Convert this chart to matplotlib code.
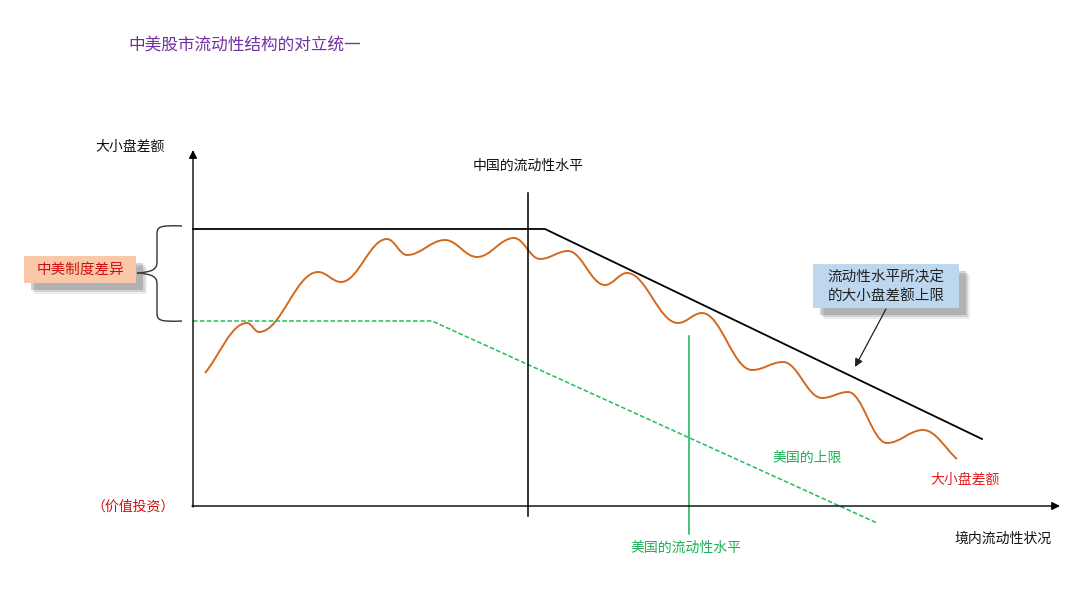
import matplotlib
matplotlib.use("Agg")
import matplotlib.pyplot as plt
from matplotlib.path import Path
from matplotlib.patches import PathPatch, Rectangle

plt.rcParams['font.family'] = ['Noto Sans CJK SC', 'DejaVu Sans']

# ---- data (conceptual units: x = domestic liquidity, y = large/small cap spread) ----
curve_x = [12, 54, 66, 125, 148, 194, 214, 252, 284, 321, 347, 375, 412, 434,
           485, 509, 559, 590, 629, 655, 694, 730, 764]
curve_y = [133, 183, 174, 234, 224, 267, 251, 266, 249, 268, 247, 255, 221, 233,
           183, 193, 136, 144, 108, 114, 63, 76, 47]
cn_limit_x = [0, 352, 789]
cn_limit_y = [277, 277, 67]
us_limit_x = [0, 239, 684]
us_limit_y = [185, 185, -17]
cn_level_x = 335
cn_level_y = [-10, 313]
us_level_x = 496
us_level_y = [-28, 170]
x_axis_end = 867
y_axis_end = 356

title = "中美股市流动性结构的对立统一"

fig = plt.figure(figsize=(10.8, 5.91), dpi=100)
ax = fig.add_axes([0, 0, 1, 1])
ax.set_xlim(-193, 1080 - 193)
ax.set_ylim(506 - 591, 506)
ax.axis('off')

# axes with arrows
ax.annotate('', xy=(x_axis_end, 0), xytext=(-1, 0),
            arrowprops=dict(arrowstyle='-|>', color='black', lw=1.0, mutation_scale=12, shrinkA=0, shrinkB=0))
ax.annotate('', xy=(0, y_axis_end), xytext=(0, -1),
            arrowprops=dict(arrowstyle='-|>', color='black', lw=1.0, mutation_scale=12, shrinkA=0, shrinkB=0))

# limits
ax.plot(cn_limit_x, cn_limit_y, color='black', lw=1.3)
ax.plot(us_limit_x, us_limit_y, color='#1DBF5A', lw=1.1, ls=(0, (3, 1.5)))
ax.plot([cn_level_x, cn_level_x], cn_level_y, color='black', lw=1.1)
ax.plot([us_level_x, us_level_x], us_level_y, color='#1BAF55', lw=1.1)

# smooth curve via Bezier segments (horizontal tangents at extrema)
k = 0.38
verts = [(curve_x[0], curve_y[0])]
codes = [Path.MOVETO]
for i in range(len(curve_x) - 1):
    x0, y0, x1, y1 = curve_x[i], curve_y[i], curve_x[i + 1], curve_y[i + 1]
    dx = x1 - x0
    if i == 0:
        c1 = (x0 + 0.35 * dx, y0 + 0.35 * (y1 - y0))
    else:
        c1 = (x0 + k * dx, y0)
    c2 = (x1 - k * dx, y1)
    if i == len(curve_x) - 2:
        c2 = (x1 - 0.35 * dx, y1 - 0.35 * (y1 - y0))
    verts += [c1, c2, (x1, y1)]
    codes += [Path.CURVE4] * 3
ax.add_patch(PathPatch(Path(verts, codes), fill=False, edgecolor='#D2691E', lw=1.4))

# brace
bx, btip = -36, -56
top = Path([(-11, 280), (bx + 2, 281), (bx, 279), (bx, 272),
            (bx, 244), (bx, 237), (bx - 4, 234), (btip, 233)],
           [Path.MOVETO, Path.CURVE4, Path.CURVE4, Path.CURVE4,
            Path.LINETO, Path.CURVE4, Path.CURVE4, Path.CURVE4])
bot = Path([(-11, 185), (bx + 2, 184), (bx, 186), (bx, 193),
            (bx, 222), (bx, 229), (bx - 4, 232), (btip, 233)],
           [Path.MOVETO, Path.CURVE4, Path.CURVE4, Path.CURVE4,
            Path.LINETO, Path.CURVE4, Path.CURVE4, Path.CURVE4])
for p in (top, bot):
    ax.add_patch(PathPatch(p, fill=False, edgecolor='#333333', lw=1.0))


def shadow_box(x0, y0, w, h, fc):
    for kk, a in [(11, 0.10), (9, 0.18), (7, 0.25)]:
        ax.add_patch(Rectangle((x0 + kk, y0 - kk), w, h, facecolor='#555555',
                               edgecolor='none', alpha=a, zorder=3))
    ax.add_patch(Rectangle((x0, y0), w, h, facecolor=fc, edgecolor='none', zorder=4))


# left label box
shadow_box(-169, 223, 112, 27, '#F8C8A8')
ax.text(-113, 236.5, "中美制度差异", color='#D01010', fontsize=10.5, ha='center', va='center', zorder=5)

# callout box
shadow_box(620, 198, 146, 44, '#BDD7EE')
ax.text(693, 220, "流动性水平所决定\n的大小盘差额上限", color='#222222', fontsize=10.5,
        ha='center', va='center', linespacing=1.4, zorder=5)
ax.annotate('', xy=(662, 139), xytext=(693, 197),
            arrowprops=dict(arrowstyle='-|>', color='#222222', lw=0.9, mutation_scale=12, shrinkA=0, shrinkB=0))

# texts
ax.text(-65, 461, title, color='#7030A0', fontsize=12, ha='left', va='center')
ax.text(-63, 359, "大小盘差额", color='#111111', fontsize=10, ha='center', va='center')
ax.text(cn_level_x, 340, "中国的流动性水平", color='#111111', fontsize=10, ha='center', va='center')
ax.text(614, 48, "美国的上限", color='#1BAF55', fontsize=10, ha='center', va='center')
ax.text(772, 26, "大小盘差额", color='#E02020', fontsize=10, ha='center', va='center')
ax.text(810, -33, "境内流动性状况", color='#111111', fontsize=10, ha='center', va='center')
ax.text(493, -42, "美国的流动性水平", color='#1BAF55', fontsize=10, ha='center', va='center')
ax.text(-60, -1, "（价值投资）", color='#D01010', fontsize=10, ha='center', va='center')

fig.savefig("out.png", dpi=100)
